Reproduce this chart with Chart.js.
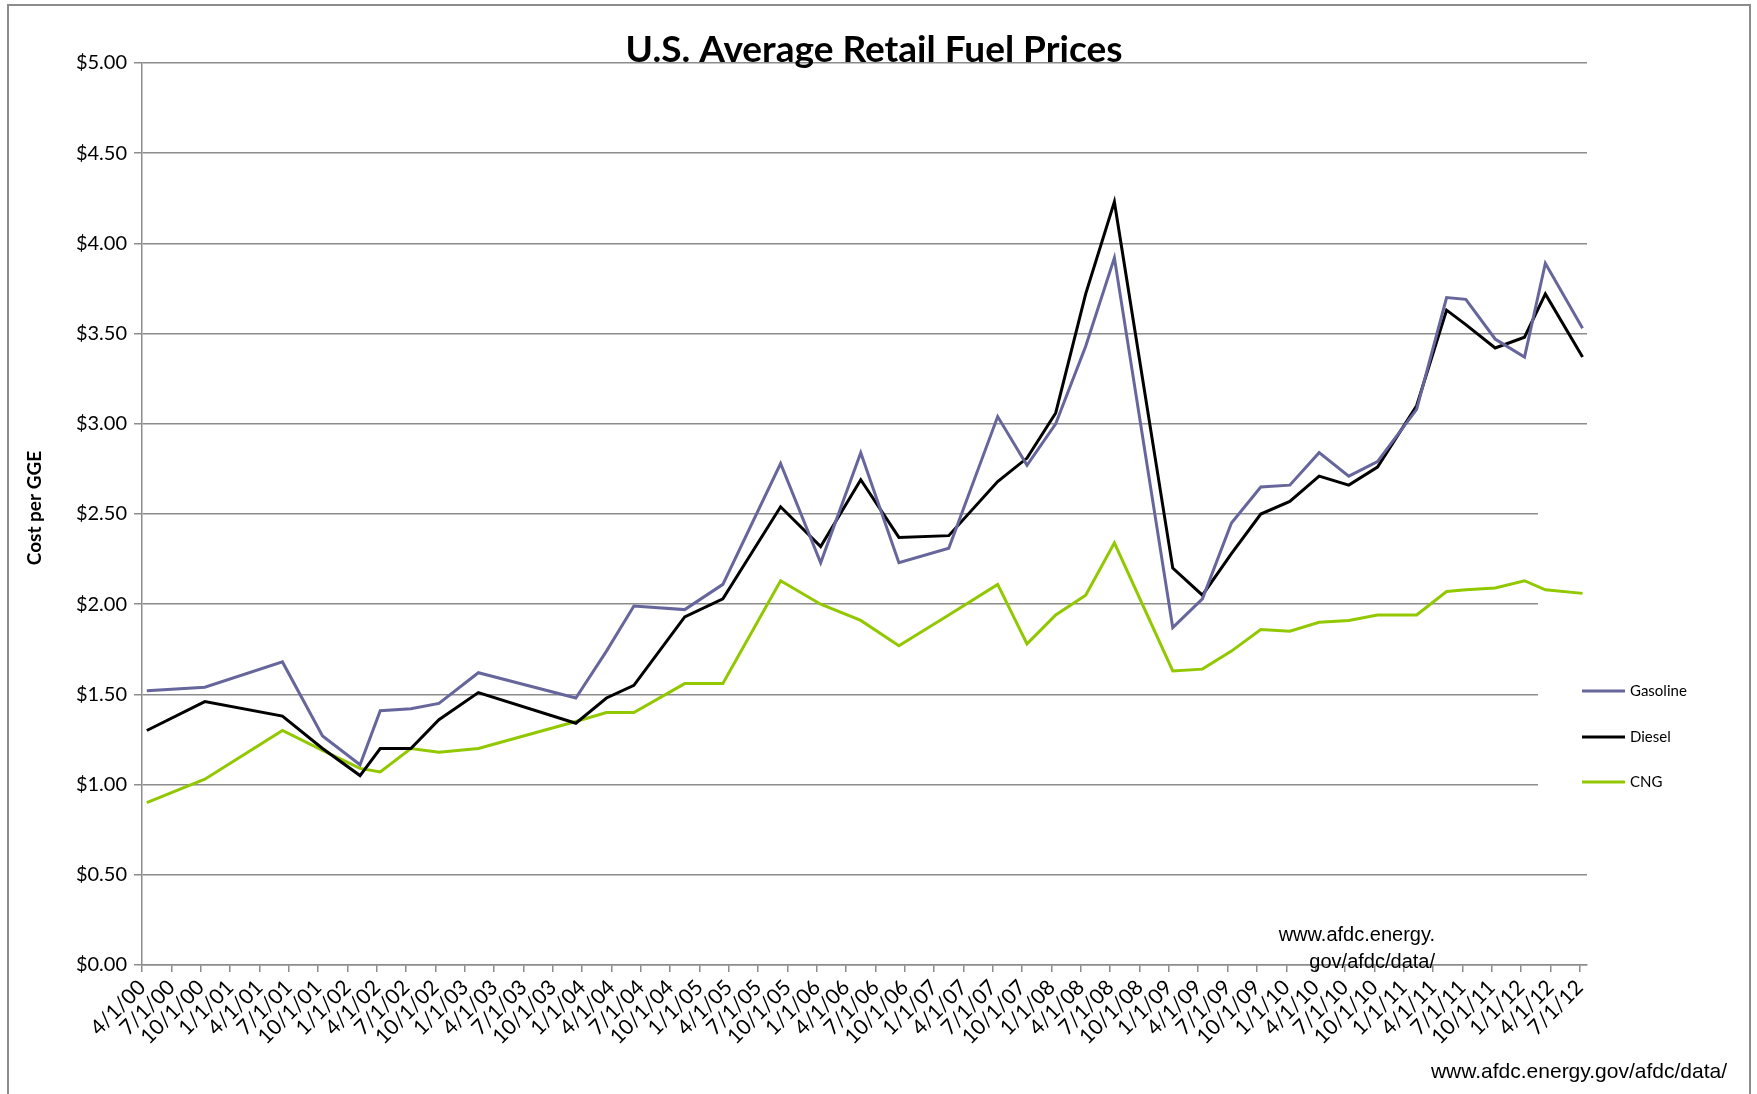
<!DOCTYPE html>
<html>
<head>
<meta charset="utf-8">
<title>U.S. Average Retail Fuel Prices</title>
<script src="https://cdn.jsdelivr.net/npm/chart.js@4.4.1/dist/chart.umd.min.js"></script>
<style>
  html, body { margin: 0; padding: 0; background: #fff; }
  canvas { display: block; }
</style>
</head>
<body>
<canvas id="fuelChart" width="1757" height="1094"></canvas>
<script>
// quarterly tick labels on the date axis
var quarterLabels = [
  '4/1/00', '7/1/00', '10/1/00', '1/1/01', '4/1/01', '7/1/01', '10/1/01', '1/1/02',
  '4/1/02', '7/1/02', '10/1/02', '1/1/03', '4/1/03', '7/1/03', '10/1/03', '1/1/04',
  '4/1/04', '7/1/04', '10/1/04', '1/1/05', '4/1/05', '7/1/05', '10/1/05', '1/1/06',
  '4/1/06', '7/1/06', '10/1/06', '1/1/07', '4/1/07', '7/1/07', '10/1/07', '1/1/08',
  '4/1/08', '7/1/08', '10/1/08', '1/1/09', '4/1/09', '7/1/09', '10/1/09', '1/1/10',
  '4/1/10', '7/1/10', '10/1/10', '1/1/11', '4/1/11', '7/1/11', '10/1/11', '1/1/12',
  '4/1/12', '7/1/12'
];

// price survey dates (not on the quarter boundaries)
var surveyDates = [
  '2000-04-16', '2000-10-14', '2001-06-12', '2001-10-15', '2002-02-10', '2002-04-12',
  '2002-07-16', '2002-10-12', '2003-02-13', '2003-12-12', '2004-03-16', '2004-06-10',
  '2004-11-16', '2005-03-13', '2005-09-10', '2006-01-13', '2006-05-16', '2006-09-13',
  '2007-02-16', '2007-07-16', '2007-10-16', '2008-01-14', '2008-04-16', '2008-07-14',
  '2009-01-13', '2009-04-14', '2009-07-13', '2009-10-13', '2010-01-12', '2010-04-12',
  '2010-07-13', '2010-10-11', '2011-02-11', '2011-05-13', '2011-07-12', '2011-10-12',
  '2012-01-12', '2012-03-16', '2012-07-10'
];

// cost per gasoline gallon equivalent, $
var gasoline = [
  1.52, 1.54, 1.68, 1.27, 1.11, 1.41, 1.42, 1.45, 1.62, 1.48, 1.74, 1.99, 1.97,
  2.11, 2.78, 2.23, 2.84, 2.23, 2.31, 3.04, 2.77, 3.00, 3.43, 3.92, 1.87, 2.03,
  2.45, 2.65, 2.66, 2.84, 2.71, 2.79, 3.08, 3.70, 3.69, 3.47, 3.37, 3.89, 3.53
];
var diesel = [
  1.30, 1.46, 1.38, 1.20, 1.05, 1.20, 1.20, 1.36, 1.51, 1.34, 1.48, 1.55, 1.93,
  2.03, 2.54, 2.32, 2.69, 2.37, 2.38, 2.68, 2.81, 3.06, 3.72, 4.23, 2.20, 2.05,
  2.28, 2.50, 2.57, 2.71, 2.66, 2.76, 3.10, 3.63, 3.55, 3.42, 3.48, 3.72, 3.37
];
var cng = [
  0.90, 1.03, 1.30, 1.19, 1.09, 1.07, 1.20, 1.18, 1.20, 1.35, 1.40, 1.40, 1.56,
  1.56, 2.13, 2.00, 1.91, 1.77, 1.94, 2.11, 1.78, 1.94, 2.05, 2.34, 1.63, 1.64,
  1.74, 1.86, 1.85, 1.90, 1.91, 1.94, 1.94, 2.07, 2.08, 2.09, 2.13, 2.08, 2.06
];

var seriesNames = ['Gasoline', 'Diesel', 'CNG'];
var seriesColors = ['#66669c', '#000000', '#92c800'];

// date string -> position in quarters after 4/1/00
function quarterPos(s) {
  var p = s.split('-').map(Number);
  return ((p[0] - 2000) * 12 + (p[1] - 4) + (p[2] - 1) / 30.5) / 3;
}

function toPoints(values) {
  return values.map(function (v, i) {
    return { x: quarterPos(surveyDates[i]), y: v };
  });
}

var gridGray = '#8c8c8c';

var decorations = {
  id: 'decorations',
  beforeDraw: function (chart) {
    var ctx = chart.ctx;
    ctx.save();
    ctx.fillStyle = '#ffffff';
    ctx.fillRect(0, 0, chart.width, chart.height);
    ctx.strokeStyle = '#8c8c8c';
    ctx.lineWidth = 2;
    ctx.strokeRect(8, 5, 1742, 1100);
    ctx.restore();
  },
  beforeDatasetsDraw: function (chart) {
    // legend box sits over the gridlines
    var ctx = chart.ctx;
    ctx.save();
    ctx.fillStyle = '#ffffff';
    ctx.fillRect(1538, 500, 60, 295);
    ctx.restore();
  },
  afterDraw: function (chart) {
    var ctx = chart.ctx;
    ctx.save();

    ctx.fillStyle = '#000';
    ctx.font = 'bold 37px Lato';
    ctx.textAlign = 'center';
    ctx.textBaseline = 'alphabetic';
    ctx.fillText('U.S. Average Retail Fuel Prices', 874, 62);

    ctx.save();
    ctx.translate(35, 508);
    ctx.rotate(-Math.PI / 2);
    ctx.font = 'bold 19px Lato';
    ctx.textBaseline = 'middle';
    ctx.fillText('Cost per GGE', 0, 0);
    ctx.restore();

    // legend
    ctx.font = '15px Lato';
    ctx.textAlign = 'left';
    ctx.textBaseline = 'middle';
    var legendY = [691, 737, 782];
    for (var i = 0; i < seriesNames.length; i++) {
      ctx.strokeStyle = seriesColors[i];
      ctx.lineWidth = 3;
      ctx.beginPath();
      ctx.moveTo(1582, legendY[i]);
      ctx.lineTo(1625, legendY[i]);
      ctx.stroke();
      ctx.fillStyle = '#000';
      ctx.fillText(seriesNames[i], 1630, legendY[i]);
    }

    // source notes
    ctx.fillStyle = '#000';
    ctx.font = '20px "Liberation Sans"';
    ctx.textAlign = 'right';
    ctx.fillText('www.afdc.energy.', 1435, 935);
    ctx.fillText('gov/afdc/data/', 1435, 962);
    ctx.font = '21px "Liberation Sans"';
    ctx.fillText('www.afdc.energy.gov/afdc/data/', 1727, 1072);
    ctx.restore();
  }
};

var ctx1 = document.getElementById('fuelChart').getContext('2d');
var fuelChart = new Chart(ctx1, {
  type: 'line',
  data: {
    datasets: [{
      label: seriesNames[0],
      data: toPoints(gasoline),
      borderColor: seriesColors[0],
      backgroundColor: seriesColors[0],
      borderWidth: 3,
      pointRadius: 0,
      tension: 0
    }, {
      label: seriesNames[1],
      data: toPoints(diesel),
      borderColor: seriesColors[1],
      backgroundColor: seriesColors[1],
      borderWidth: 3,
      pointRadius: 0,
      tension: 0
    }, {
      label: seriesNames[2],
      data: toPoints(cng),
      borderColor: seriesColors[2],
      backgroundColor: seriesColors[2],
      borderWidth: 3,
      pointRadius: 0,
      tension: 0
    }]
  },
  options: {
    responsive: false,
    devicePixelRatio: 1,
    animation: false,
    layout: { padding: { top: 63, right: 170, bottom: 0, left: 0 } },
    plugins: {
      legend: { display: false },
      title: { display: false },
      tooltip: { enabled: false }
    },
    scales: {
      x: {
        type: 'linear',
        min: 0,
        max: 49.25,
        afterFit: function (scale) { scale.height = 129; },
        afterBuildTicks: function (scale) {
          scale.ticks = quarterLabels.map(function (l, i) { return { value: i }; });
        },
        grid: {
          drawOnChartArea: false,
          drawTicks: true,
          tickLength: 7,
          color: gridGray,
          lineWidth: 1.5
        },
        border: { display: true, color: gridGray, width: 1.5 },
        ticks: {
          autoSkip: false,
          minRotation: 45,
          maxRotation: 45,
          padding: 3,
          color: '#000',
          font: { family: 'Lato', size: 21 },
          callback: function (value) { return quarterLabels[value]; }
        }
      },
      y: {
        min: 0,
        max: 5,
        afterFit: function (scale) { scale.width = 142; },
        grid: {
          color: gridGray,
          lineWidth: 1.5,
          tickLength: 8
        },
        border: { display: true, color: gridGray, width: 1.5 },
        ticks: {
          stepSize: 0.5,
          padding: 7,
          color: '#000',
          font: { family: 'Lato', size: 20 },
          callback: function (value) { return '$' + value.toFixed(2); }
        }
      }
    }
  },
  plugins: [decorations]
});
</script>
</body>
</html>
